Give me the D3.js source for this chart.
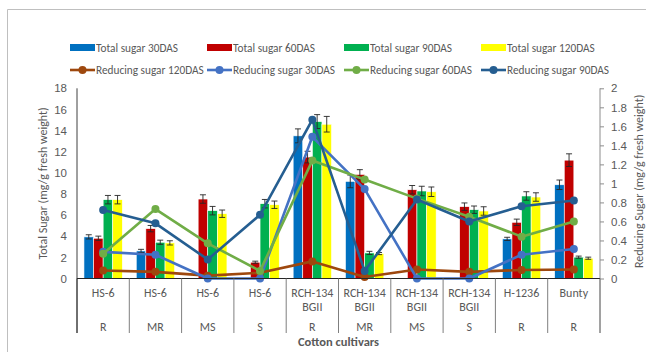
<!DOCTYPE html>
<html>
<head>
<meta charset="utf-8">
<script src="https://cdn.jsdelivr.net/npm/d3@7"></script>
<style>
  html, body { margin: 0; padding: 0; background: #ffffff; }
  svg { display: block; font-family: Carlito, "Liberation Sans", Arial, sans-serif; }
</style>
</head>
<body>
<svg id="chart" width="646" height="352"></svg>
<script>
// Cultivars (first label row) and their reaction class (second label row)
const cultivars = ["HS-6", "HS-6", "HS-6", "HS-6", "RCH-134 BGII", "RCH-134 BGII", "RCH-134 BGII", "RCH-134 BGII", "H-1236", "Bunty"];
const reactions = ["R", "MR", "MS", "S", "R", "MR", "MS", "S", "R", "R"];

// Total sugar (mg/g fresh weight), left axis
const totalSugar30 = [3.94, 2.61, 0, 0, 13.5, 9.19, 0, 0, 3.75, 8.87];
const totalSugar60 = [3.81, 4.72, 7.52, 1.54, 11.49, 9.85, 8.40, 6.80, 5.32, 11.2];
const totalSugar90 = [7.46, 3.43, 6.42, 7.08, 14.85, 2.42, 8.28, 6.51, 7.81, 2.02];
const totalSugar120 = [7.46, 3.37, 6.13, 6.98, 14.6, 2.36, 8.21, 6.39, 7.71, 1.92];

// Standard errors for total sugar
const totalErr30 = [0.2, 0.15, 0, 0, 0.66, 0.6, 0, 0, 0.15, 0.45];
const totalErr60 = [0.2, 0.3, 0.4, 0.1, 0.55, 0.45, 0.4, 0.35, 0.3, 0.6];
const totalErr90 = [0.4, 0.2, 0.4, 0.4, 0.66, 0.15, 0.45, 0.35, 0.4, 0.1];
const totalErr120 = [0.4, 0.2, 0.35, 0.35, 0.74, 0.1, 0.45, 0.4, 0.4, 0.1];

// Reducing sugar (mg/g fresh weight), right axis
const reducing120 = [0.084, 0.07, 0.03, 0.06, 0.18, 0.015, 0.095, 0.07, 0.09, 0.095];
const reducing30 = [0.28, 0.25, 0, 0, 1.49, 0.94, 0, 0, 0.25, 0.31];
const reducing60 = [0.26, 0.73, 0.37, 0.08, 1.24, 1.04, 0.84, 0.65, 0.44, 0.60];
const reducing90 = [0.72, 0.58, 0.20, 0.67, 1.67, 0.08, 0.83, 0.60, 0.76, 0.82];

// Axis ticks
const leftTicks = [0, 2, 4, 6, 8, 10, 12, 14, 16, 18];
const rightTicks = [0, 0.2, 0.4, 0.6, 0.8, 1, 1.2, 1.4, 1.6, 1.8, 2];

const barSeries = [
  { name: "Total sugar 30DAS", values: totalSugar30, err: totalErr30, color: "#0070C0" },
  { name: "Total sugar 60DAS", values: totalSugar60, err: totalErr60, color: "#C00000" },
  { name: "Total sugar 90DAS", values: totalSugar90, err: totalErr90, color: "#00B050" },
  { name: "Total sugar 120DAS", values: totalSugar120, err: totalErr120, color: "#FFFF00" }
];
const lineSeries = [
  { name: "Reducing sugar 120DAS", values: reducing120, color: "#9E480E" },
  { name: "Reducing sugar 30DAS", values: reducing30, color: "#4472C4" },
  { name: "Reducing sugar 60DAS", values: reducing60, color: "#70AD47" },
  { name: "Reducing sugar 90DAS", values: reducing90, color: "#255E91" }
];

const svg = d3.select("#chart");
const plot = { left: 77, right: 600, top: 88.3, bottom: 278.5 };
const textColor = "#595959";

// Chart frame
svg.append("path")
  .attr("d", `M7.5,360 V9.5 H660`)
  .attr("fill", "none").attr("stroke", "#BFBFBF").attr("stroke-width", 1);

const idx = d3.range(cultivars.length);
const x = d3.scaleBand().domain(idx).range([plot.left, plot.right]).padding(0);
const bw = x.bandwidth();
const xInner = d3.scaleBand().domain(d3.range(barSeries.length))
  .range([bw * 0.133, bw * 0.867]).padding(0);
const yL = d3.scaleLinear().domain([0, 18]).range([plot.bottom, plot.top]);
const yR = d3.scaleLinear().domain([0, 2]).range([plot.bottom, plot.top]);

// Bars
barSeries.forEach((s, si) => {
  const g = svg.append("g");
  g.selectAll("rect").data(s.values).join("rect")
    .attr("x", (d, i) => x(i) + xInner(si))
    .attr("y", d => yL(d))
    .attr("width", xInner.bandwidth())
    .attr("height", d => yL(0) - yL(d))
    .attr("fill", s.color)
    .attr("stroke", "#ffffff").attr("stroke-width", 0.6);
});

// Error bars
barSeries.forEach((s, si) => {
  const g = svg.append("g").attr("stroke", "#262626").attr("stroke-width", 0.9);
  s.values.forEach((v, i) => {
    const e = s.err[i];
    if (!v || !e) return;
    const cx = x(i) + xInner(si) + xInner.bandwidth() / 2;
    g.append("line").attr("x1", cx).attr("x2", cx).attr("y1", yL(v + e)).attr("y2", yL(v - e));
    g.append("line").attr("x1", cx - 3).attr("x2", cx + 3).attr("y1", yL(v + e)).attr("y2", yL(v + e));
    g.append("line").attr("x1", cx - 3).attr("x2", cx + 3).attr("y1", yL(v - e)).attr("y2", yL(v - e));
  });
});

// Lines (right axis)
const line = d3.line().x((d, i) => x(i) + bw / 2).y(d => yR(d));
lineSeries.forEach(s => {
  const g = svg.append("g");
  g.append("path").datum(s.values).attr("d", line)
    .attr("fill", "none").attr("stroke", s.color).attr("stroke-width", 2.6)
    .attr("stroke-linejoin", "round");
  g.selectAll("circle").data(s.values).join("circle")
    .attr("cx", (d, i) => x(i) + bw / 2).attr("cy", d => yR(d)).attr("r", 4)
    .attr("fill", s.color);
});

// Left axis
const leftAxis = svg.append("g").attr("transform", `translate(${plot.left},0)`)
  .call(d3.axisLeft(yL).tickValues(leftTicks).tickSize(0).tickPadding(10));
leftAxis.select(".domain").remove();
leftAxis.selectAll("text").attr("fill", textColor).style("font-size", "11.5px");
svg.append("line").attr("x1", plot.left).attr("x2", plot.left)
  .attr("y1", plot.top).attr("y2", 333).attr("stroke", "#404040").attr("stroke-width", 1);

// Right axis
const rightAxis = svg.append("g").attr("transform", `translate(${plot.right},0)`)
  .call(d3.axisRight(yR).tickValues(rightTicks).tickSize(4).tickPadding(7).tickFormat(d3.format("")));
rightAxis.select(".domain").remove();
rightAxis.selectAll("line").attr("stroke", "#8C8C8C");
rightAxis.selectAll("text").attr("fill", textColor).style("font-size", "11.5px");
svg.append("line").attr("x1", plot.right).attr("x2", plot.right)
  .attr("y1", plot.top).attr("y2", 333).attr("stroke", "#8C8C8C").attr("stroke-width", 1);

// Category axis: zero line, separators and two label rows
svg.append("line").attr("x1", plot.left).attr("x2", plot.right)
  .attr("y1", plot.bottom).attr("y2", plot.bottom).attr("stroke", "#262626").attr("stroke-width", 1.2);
const sepG = svg.append("g");
sepG.selectAll("line").data(d3.range(cultivars.length + 1)).join("line")
  .attr("x1", i => plot.left + i * bw).attr("x2", i => plot.left + i * bw)
  .attr("y1", plot.bottom).attr("y2", 333)
  .attr("stroke", i => (i === 0 ? "#404040" : "#7F7F7F")).attr("stroke-width", 1);

const catG = svg.append("g").attr("fill", textColor).style("font-size", "12px").attr("text-anchor", "middle");
cultivars.forEach((c, i) => {
  const parts = c.split(" ");
  const t = catG.append("text").attr("x", x(i) + bw / 2).attr("y", 297);
  parts.forEach((p, k) => t.append("tspan").attr("x", x(i) + bw / 2).attr("dy", k === 0 ? 0 : 13.5).text(p));
  catG.append("text").attr("x", x(i) + bw / 2).attr("y", 330.5).text(reactions[i]);
});

// Axis titles
svg.append("text").attr("transform", `translate(46.5,${(plot.top + plot.bottom) / 2}) rotate(-90)`)
  .attr("text-anchor", "middle").attr("fill", textColor).style("font-size", "12px")
  .text("Total Sugar (mg/g fresh weight)");
svg.append("text").attr("transform", `translate(643,${(plot.top + plot.bottom) / 2 - 2}) rotate(-90)`)
  .attr("text-anchor", "middle").attr("fill", textColor).style("font-size", "12px")
  .text("Reducing Sugar (mg/g fresh weight)");
svg.append("text").attr("x", (plot.left + plot.right) / 2).attr("y", 345.5)
  .attr("text-anchor", "middle").attr("fill", textColor).style("font-size", "12.5px").style("font-weight", "bold")
  .text("Cotton cultivars");

// Legend
const legCols = [70, 207, 344, 481];
const legend = svg.append("g").style("font-size", "11.3px");
barSeries.forEach((s, i) => {
  const g = legend.append("g").attr("transform", `translate(${legCols[i]},47.5)`);
  g.append("rect").attr("x", 0).attr("y", -3.5).attr("width", 25).attr("height", 7).attr("fill", s.color);
  g.append("text").attr("x", 26).attr("y", 4).attr("fill", textColor).text(s.name);
});
lineSeries.forEach((s, i) => {
  const g = legend.append("g").attr("transform", `translate(${legCols[i]},70)`);
  g.append("line").attr("x1", 0).attr("x2", 25).attr("stroke", s.color).attr("stroke-width", 2.6);
  g.append("circle").attr("cx", 12.5).attr("r", 4).attr("fill", s.color);
  g.append("text").attr("x", 26).attr("y", 4).attr("fill", textColor).text(s.name);
});
</script>
</body>
</html>
